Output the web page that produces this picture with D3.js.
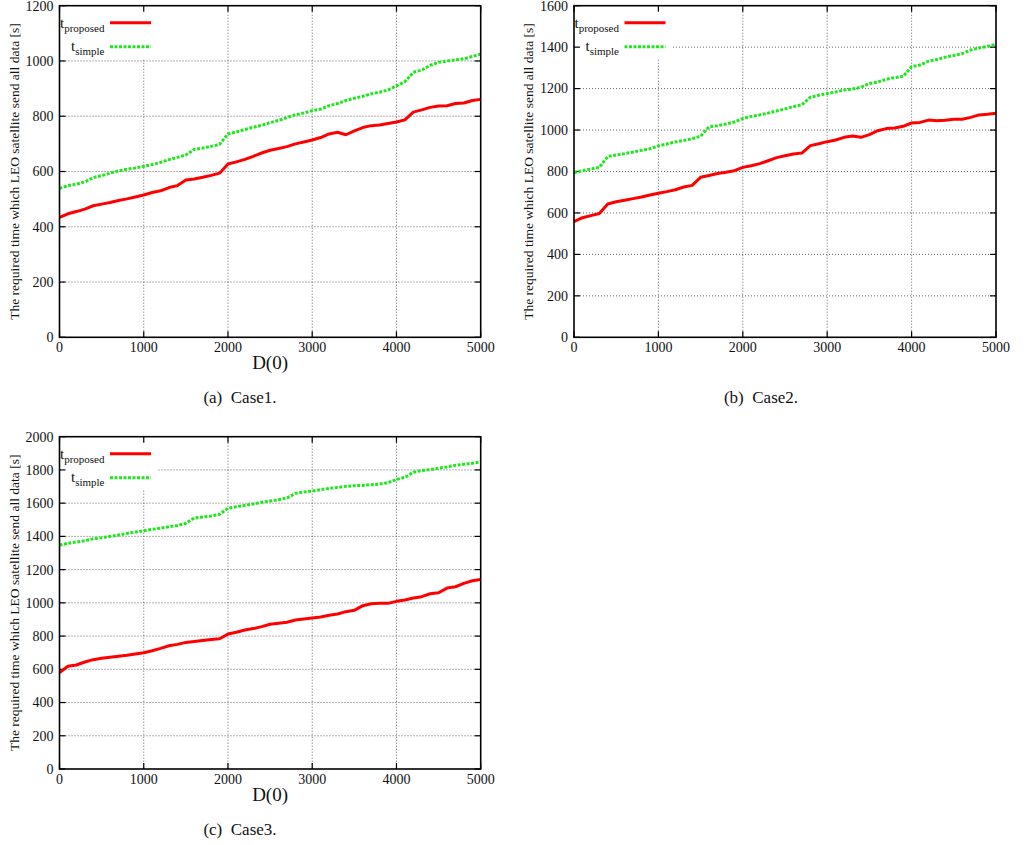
<!DOCTYPE html>
<meta charset="utf-8">
<head>
<style>
body { margin: 0; background: #fff; }
svg { display: block; }
text { font-family: "Liberation Serif", "DejaVu Serif", serif; fill: #111; }
.grid line { stroke: #555; stroke-width: 0.9; stroke-dasharray: 1,2; }
.frame { fill: none; stroke: #000; stroke-width: 1.6; }
.tick { stroke: #000; stroke-width: 1.2; }
</style>
</head>
<body>
<svg></svg>
<script src="https://d3js.org/d3.v7.min.js"></script>
<script>
// D(0) values on the x axis
var dValues = [0, 100, 200, 300, 400, 500, 600, 700, 800, 900,
  1000, 1100, 1200, 1300, 1400, 1500, 1600, 1700, 1800, 1900,
  2000, 2100, 2200, 2300, 2400, 2500, 2600, 2700, 2800, 2900,
  3000, 3100, 3200, 3300, 3400, 3500, 3600, 3700, 3800, 3900,
  4000, 4100, 4200, 4300, 4400, 4500, 4600, 4700, 4800, 4900, 5000];

var xTicks = [0, 1000, 2000, 3000, 4000, 5000];

// Case1
var case1Proposed = [434, 447, 455, 464, 476, 482, 488, 495, 501, 508,
  515, 524, 530, 542, 549, 569, 573, 579, 586, 594,
  627, 635, 644, 655, 667, 677, 683, 690, 700, 707,
  714, 723, 736, 742, 733, 747, 759, 766, 768, 774,
  779, 787, 815, 823, 832, 837, 838, 846, 848, 857, 861];
var case1Simple = [539, 549, 554, 562, 578, 585, 594, 602, 608, 613,
  619, 625, 633, 643, 651, 660, 680, 685, 691, 698,
  736, 743, 752, 760, 767, 777, 785, 795, 805, 812,
  820, 826, 838, 846, 857, 865, 872, 881, 887, 895,
  910, 925, 959, 967, 984, 995, 1000, 1004, 1008, 1016, 1025];
var case1YTicks = [0, 200, 400, 600, 800, 1000, 1200];

// Case2
var case2Proposed = [558, 577, 587, 597, 643, 654, 661, 669, 677, 687,
  695, 703, 712, 725, 733, 772, 781, 790, 796, 804,
  820, 828, 838, 852, 867, 876, 884, 889, 925, 934,
  944, 952, 965, 971, 965, 978, 997, 1007, 1010, 1018,
  1034, 1037, 1048, 1045, 1047, 1052, 1052, 1061, 1073, 1076, 1081];
var case2Simple = [794, 804, 812, 820, 872, 880, 886, 894, 902, 910,
  923, 933, 942, 950, 958, 971, 1015, 1021, 1029, 1039,
  1056, 1066, 1073, 1082, 1092, 1102, 1113, 1122, 1158, 1168,
  1176, 1184, 1193, 1198, 1206, 1225, 1232, 1245, 1253, 1259,
  1306, 1314, 1332, 1340, 1352, 1360, 1369, 1386, 1396, 1404, 1414];
var case2YTicks = [0, 200, 400, 600, 800, 1000, 1200, 1400, 1600];

// Case3
var case3Proposed = [580, 618, 626, 644, 658, 666, 672, 678, 684, 692,
  700, 712, 726, 742, 750, 762, 768, 774, 780, 784,
  812, 823, 837, 845, 857, 871, 877, 883, 897, 903,
  909, 915, 925, 933, 947, 955, 983, 995, 997, 997,
  1009, 1017, 1029, 1037, 1055, 1061, 1089, 1097, 1117, 1133, 1141];
var case3Simple = [1348, 1358, 1366, 1374, 1386, 1392, 1400, 1408, 1418, 1426,
  1434, 1442, 1450, 1458, 1466, 1479, 1511, 1517, 1523, 1533,
  1569, 1579, 1587, 1595, 1605, 1613, 1621, 1631, 1659, 1667,
  1673, 1681, 1689, 1695, 1701, 1705, 1707, 1711, 1715, 1723,
  1743, 1755, 1786, 1796, 1802, 1810, 1818, 1828, 1834, 1840, 1848];
var case3YTicks = [0, 200, 400, 600, 800, 1000, 1200, 1400, 1600, 1800, 2000];

var yTitle = "The required time which LEO satellite send all data [s]";
var xTitle = "D(0)";

var svg = d3.select('svg').attr('width', 1025).attr('height', 845);

var panels = [
  { left: 59.5, top: 5.7, w: 421.2, h: 331.6, yTicks: case1YTicks, proposed: case1Proposed, simple: case1Simple,
    caption: "(a)\u00a0\u00a0Case1.", capX: 240, capY: 403, showX: true },
  { left: 574, top: 5.7, w: 422, h: 331.6, yTicks: case2YTicks, proposed: case2Proposed, simple: case2Simple,
    caption: "(b)\u00a0\u00a0Case2.", capX: 761, capY: 403, showX: false },
  { left: 59.5, top: 436.7, w: 421.2, h: 332.3, yTicks: case3YTicks, proposed: case3Proposed, simple: case3Simple,
    caption: "(c)\u00a0\u00a0Case3.", capX: 240, capY: 835, showX: true }
];

panels.forEach(function (p) {
  var g = svg.append('g').attr('transform', 'translate(' + p.left + ',' + p.top + ')');
  var x = d3.scaleLinear().domain([0, 5000]).range([0, p.w]);
  var yMax = p.yTicks[p.yTicks.length - 1];
  var y = d3.scaleLinear().domain([0, yMax]).range([p.h, 0]);

  // grid
  var grid = g.append('g').attr('class', 'grid');
  grid.selectAll('.gy').data(p.yTicks.slice(1, -1)).enter().append('line')
    .attr('x1', 0).attr('x2', p.w)
    .attr('y1', function (d) { return y(d); }).attr('y2', function (d) { return y(d); });
  grid.selectAll('.gx').data(xTicks.slice(1, -1)).enter().append('line')
    .attr('y1', 0).attr('y2', p.h)
    .attr('x1', function (d) { return x(d); }).attr('x2', function (d) { return x(d); });

  // key box hides the grid behind it
  g.append('rect').attr('x', 1).attr('y', 1).attr('width', 97).attr('height', 52).attr('fill', '#fff');

  // ticks, mirrored and pointing inwards
  var t = 6;
  p.yTicks.forEach(function (d) {
    g.append('line').attr('class', 'tick').attr('x1', 0).attr('x2', t).attr('y1', y(d)).attr('y2', y(d));
    g.append('line').attr('class', 'tick').attr('x1', p.w - t).attr('x2', p.w).attr('y1', y(d)).attr('y2', y(d));
  });
  xTicks.forEach(function (d) {
    g.append('line').attr('class', 'tick').attr('y1', p.h).attr('y2', p.h - t).attr('x1', x(d)).attr('x2', x(d));
    g.append('line').attr('class', 'tick').attr('y1', 0).attr('y2', t).attr('x1', x(d)).attr('x2', x(d));
  });

  // tick labels
  g.selectAll('.yl').data(p.yTicks).enter().append('text')
    .attr('x', -6).attr('y', function (d) { return y(d); })
    .attr('dy', '0.35em').attr('text-anchor', 'end')
    .style('font-size', '14px').text(function (d) { return d; });
  g.selectAll('.xl').data(xTicks).enter().append('text')
    .attr('x', function (d) { return x(d); }).attr('y', p.h + 15)
    .attr('text-anchor', 'middle')
    .style('font-size', '14px').text(function (d) { return d; });

  // data lines
  var line = d3.line()
    .x(function (d, i) { return x(dValues[i]); })
    .y(function (d) { return y(d); });
  g.append('path').datum(p.proposed).attr('d', line)
    .attr('fill', 'none').attr('stroke', '#ff0000').attr('stroke-width', 3).attr('stroke-linejoin', 'round');
  g.append('path').datum(p.simple).attr('d', line)
    .attr('fill', 'none').attr('stroke', '#22e622').attr('stroke-width', 3).attr('stroke-dasharray', '3,1.5');

  // frame
  g.append('rect').attr('class', 'frame').attr('width', p.w).attr('height', p.h);

  // key
  var k1 = g.append('text').attr('x', 45).attr('y', 22).attr('text-anchor', 'end').style('font-size', '15px');
  k1.append('tspan').text('t');
  k1.append('tspan').attr('dy', 4).style('font-size', '11px').text('proposed');
  g.append('line').attr('x1', 50.5).attr('x2', 91.5).attr('y1', 17).attr('y2', 17)
    .attr('stroke', '#ff0000').attr('stroke-width', 3);
  var k2 = g.append('text').attr('x', 45).attr('y', 45).attr('text-anchor', 'end').style('font-size', '15px');
  k2.append('tspan').text('t');
  k2.append('tspan').attr('dy', 4).style('font-size', '11px').text('simple');
  g.append('line').attr('x1', 50.5).attr('x2', 91.5).attr('y1', 41).attr('y2', 41)
    .attr('stroke', '#22e622').attr('stroke-width', 3).attr('stroke-dasharray', '3,1.5');

  // axis titles
  g.append('text')
    .attr('transform', 'translate(-41,' + (p.h / 2) + ') rotate(-90)')
    .attr('text-anchor', 'middle').style('font-size', '13.5px').text(yTitle);
  if (p.showX) {
    g.append('text').attr('x', p.w / 2).attr('y', p.h + 32)
      .attr('text-anchor', 'middle').style('font-size', '19px').text(xTitle);
  }

  // caption
  svg.append('text').attr('x', p.capX).attr('y', p.capY)
    .attr('text-anchor', 'middle').style('font-size', '17px').text(p.caption);
});
</script>
</body>
</html>
